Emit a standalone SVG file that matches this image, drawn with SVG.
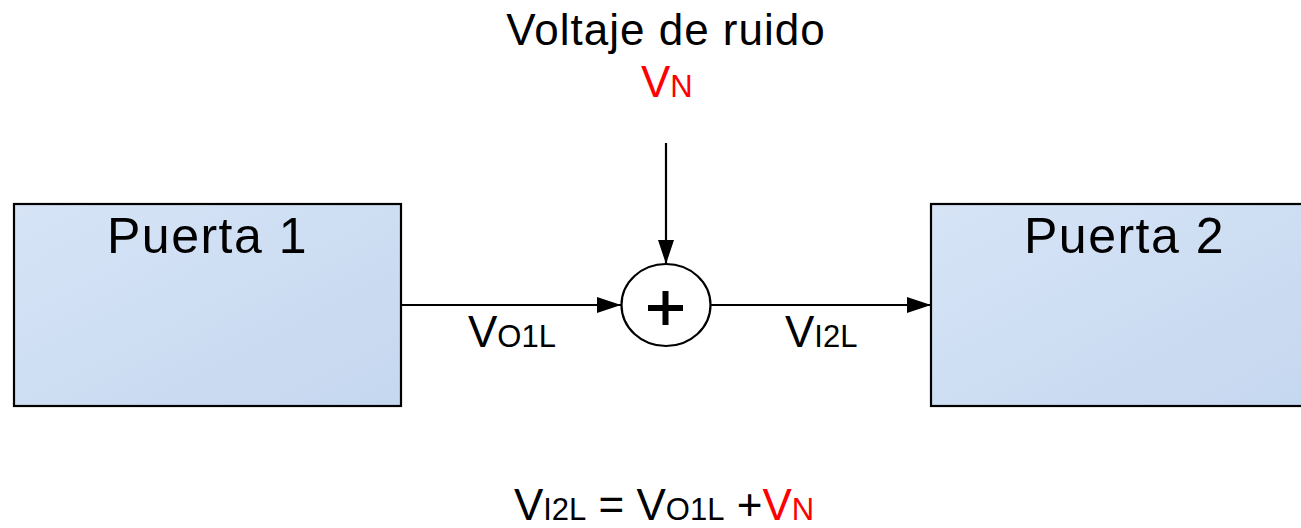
<svg xmlns="http://www.w3.org/2000/svg" width="1301" height="528" viewBox="0 0 1301 528">
  <defs>
    <linearGradient id="boxFill" x1="0" y1="0" x2="1" y2="1">
      <stop offset="0" stop-color="#d6e4f6"/>
      <stop offset="1" stop-color="#c5d7ef"/>
    </linearGradient>
    <marker id="arrow" markerUnits="userSpaceOnUse" markerWidth="26" markerHeight="18" refX="24" refY="8" orient="auto">
      <path d="M0,0 L24,8 L0,16 Z" fill="#000"/>
    </marker>
  </defs>
  <style>
    .box { fill: url(#boxFill); stroke: #000; stroke-width: 2.2; }
    .conn { stroke: #000; stroke-width: 2.2; fill: none; }
    text { font-family: "Liberation Sans", Arial, sans-serif; fill: #000; }
    .title { font-size: 50px; letter-spacing: 1.5px; }
    .lbl { font-size: 44px; }
    .wide { letter-spacing: 1px; }
    .sub { font-size: 31px; }
    .red { fill: #ff0000; }
  </style>
  <rect width="1301" height="528" fill="#fff"/>

  <g id="puerta1">
    <rect class="box" x="14" y="204" width="387" height="202"/>
    <text class="title" x="207.5" y="253" text-anchor="middle">Puerta 1</text>
  </g>

  <g id="puerta2">
    <rect class="box" x="931" y="204" width="387" height="202"/>
    <text class="title" x="1124.5" y="253" text-anchor="middle">Puerta 2</text>
  </g>

  <g id="sumador">
    <ellipse cx="666" cy="305" rx="44.5" ry="41" fill="#fff" stroke="#000" stroke-width="2.2"/>
    <path d="M648,308 H683 M665.5,291 V325" stroke="#000" stroke-width="6" fill="none"/>
  </g>

  <g id="ruido">
    <text class="lbl wide" x="666" y="45" text-anchor="middle">Voltaje de ruido</text>
    <text class="lbl red" x="641" y="97">V<tspan class="sub">N</tspan></text>
  </g>

  <g id="connectors">
    <line class="conn" x1="401" y1="305" x2="621" y2="305" marker-end="url(#arrow)"/>
    <line class="conn" x1="711" y1="305" x2="931" y2="305" marker-end="url(#arrow)"/>
    <line class="conn" x1="666" y1="143" x2="666" y2="264" marker-end="url(#arrow)"/>
  </g>

  <g id="labels">
    <text class="lbl" x="468" y="347">V<tspan class="sub">O1L</tspan></text>
    <text class="lbl" x="785" y="347">V<tspan class="sub">I2L</tspan></text>
  </g>

  <g id="ecuacion">
    <text class="lbl" x="664" y="520" text-anchor="middle">V<tspan class="sub">I2L</tspan> = V<tspan class="sub">O1L</tspan> +<tspan class="red">V</tspan><tspan class="sub red">N</tspan></text>
  </g>
</svg>
